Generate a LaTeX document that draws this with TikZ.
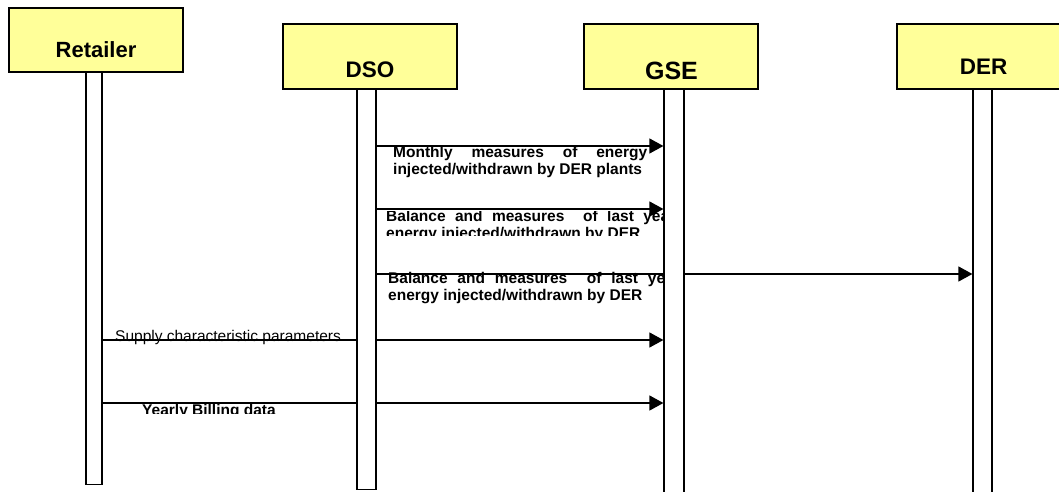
\documentclass[tikz,border=0pt]{standalone}
\usepackage{fontspec}
\setmainfont{Liberation Sans}
\usepackage{tikz}
\usetikzlibrary{arrows.meta,positioning}
\definecolor{paleyellow}{HTML}{FFFF99}
\pgfdeclarelayer{back}
\pgfsetlayers{back,main}
\newcommand\msgfont{\fontsize{15.5}{17}\selectfont}

\begin{document}
\begin{tikzpicture}[x=1pt,y=-1pt,
  p/.style={draw,line width=2.8pt,fill=paleyellow,minimum width=174pt,
            minimum height=65pt,inner sep=0pt},
  pl/.style={anchor=base,inner sep=0pt},
  ll/.style={draw,line width=1.2pt,fill=white,anchor=north,inner sep=0pt,
             minimum width=19pt},
  a/.style={-{Triangle[length=14pt,width=15pt]},line width=1.3pt},
  m/.style={anchor=base west,inner sep=0pt,align=left,font=\msgfont\bfseries}
]
  \useasboundingbox (0,0) rectangle (1059,492);
  % participants
  \node[p,minimum height=64pt] (retailer) at (96,40) {};
  \node[p] (dso) at (370,56.5) {};
  \node[p] (gse) at (671,56.5) {};
  \node[p] (der) at (984,56.5) {};
  \node[pl,font=\fontsize{22}{26}\selectfont\bfseries] (retailerT) at (96,58) {Retailer};
  \node[pl,font=\fontsize{22.5}{26}\selectfont\bfseries] (dsoT) at (370,78) {DSO};
  \node[pl,font=\fontsize{25}{28}\selectfont\bfseries] (gseT) at (671.5,80) {GSE};
  \node[pl,font=\fontsize{22.5}{26}\selectfont\bfseries] (derT) at (983.5,75) {DER};
  % lifelines
  \node[ll,minimum width=16pt,minimum height=412pt] (retL) at (94,72) {};
  \node[ll,minimum height=400pt] (dsoL) at (366.5,89) {};
  \node[ll,minimum width=20pt,minimum height=410pt] (gseL) at (674,89) {};
  \node[ll,minimum height=410pt] (derL) at (982.5,89) {};
  % messages
  \coordinate (m1) at (0,146);
  \coordinate (m2) at (0,209);
  \coordinate (m3) at (0,274);
  \coordinate (m4) at (0,340);
  \coordinate (m5) at (0,403);
  \begin{pgfonlayer}{back}
    \node[m] (t1) at (393,174) {\makebox[254pt][s]{Monthly measures of energy}\\
      injected/withdrawn by DER plants};
    \begin{scope}
      \clip (380,211) rectangle (700,235);
      \node[m] (t2) at (386,238) {\makebox[283pt][s]{Balance and measures\ \ of last yea}\\
        energy injected/withdrawn by DER};
    \end{scope}
    \node[m] (t3) at (388,300) {\makebox[277pt][s]{Balance and measures\ \ of last ye}\\
      energy injected/withdrawn by DER};
    \node[m,font=\msgfont] (t4) at (115,341) {Supply characteristic parameters};
    \begin{scope}
      \clip (130,400) rectangle (300,413);
      \node[m] (t5) at (142,415) {Yearly Billing data};
    \end{scope}
    \draw[a] (dsoL.east |- m1) -- (gseL.west |- m1);
    \draw[a] (dsoL.east |- m2) -- (gseL.west |- m2);
    \draw[a] (dsoL.east |- m3) -- (derL.west |- m3);
    \draw[a] (retL.east |- m4) -- (gseL.west |- m4);
    \draw[a] (retL.east |- m5) -- (gseL.west |- m5);
  \end{pgfonlayer}
\end{tikzpicture}
\end{document}
